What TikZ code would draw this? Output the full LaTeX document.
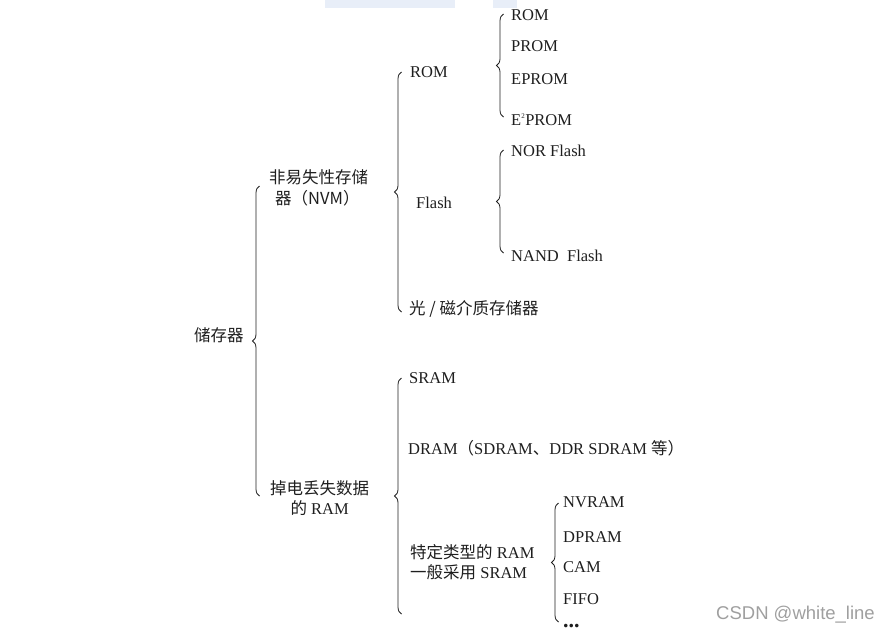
\documentclass[tikz,border=0pt]{standalone}
\usepackage{fontspec}
\setmainfont{Liberation Serif}
\newfontfamily\cjk{Noto Sans CJK SC}
\newfontfamily\markfont{Liberation Sans}
\usetikzlibrary{decorations.pathreplacing}
\definecolor{topblue}{HTML}{E8EEF8}
\definecolor{inkgray}{HTML}{1E1E1E}

\begin{document}
\begin{tikzpicture}[x=1pt, y=-1pt,
    item/.style={anchor=base west, inner sep=0pt, text=inkgray,
        font=\fontsize{16.5}{20.5}\selectfont},
    twoline/.style={anchor=west, inner sep=0pt, text=inkgray,
        font=\fontsize{16.5}{20.5}\selectfont},
    brace/.style={decorate, decoration={brace, amplitude=7pt},
        line width=0.8pt, inkgray}]
    \useasboundingbox (0,0) rectangle (890,633);

    \fill[topblue] (325,0) rectangle (455,8);
    \fill[topblue] (493,0) rectangle (517,8);

    % level 0 and 1
    \node[item] (root) at (194,341) {\cjk 储存器};
    \node[twoline, align=left] (nvm) at (269,188)
        {\cjk 非易失性存储\\\hspace*{6pt}\cjk 器（NVM）};
    \node[twoline, align=center] (ram) at (270,498)
        {{\cjk 掉电丢失数据}\\{\cjk 的} RAM};

    % level 2
    \node[item] (rom) at (410,77) {ROM};
    \node[item] (flash) at (416,208) {Flash};
    \node[item] (optic) at (409,314) {\cjk 光 / 磁介质存储器};
    \node[item] (sram) at (409,383) {SRAM};
    \node[item] (dram) at (408,454)
        {DRAM{\cjk （}SDRAM{\cjk 、}DDR SDRAM {\cjk 等）}};
    \node[twoline, align=left] (special) at (410,562)
        {{\cjk 特定类型的} RAM\\{\cjk 一般采用} SRAM};

    % level 3
    \node[item] (romA) at (511,20) {ROM};
    \node[item] (prom) at (511,51) {PROM};
    \node[item] (eprom) at (511,84) {EPROM};
    \node[item] (eeprom) at (511,125) {E\textsuperscript{\scriptsize 2}PROM};
    \node[item] (nor) at (511,156) {NOR Flash};
    \node[item] (nand) at (511,261) {NAND\ \ Flash};
    \node[item] (nvram) at (563,507) {NVRAM};
    \node[item] (dpram) at (563,542) {DPRAM};
    \node[item] (cam) at (563,572) {CAM};
    \node[item] (fifo) at (563,604) {FIFO};
    \node[item, font=\fontsize{22}{24}\selectfont] (more) at (563,627) {\textbf{...}};

    % brace ends
    \coordinate (rootT) at (259.5,186);
    \coordinate (rootB) at (259.5,496);
    \coordinate (nvmT) at (401.5,72);
    \coordinate (nvmB) at (401.5,312);
    \coordinate (romT) at (503.5,14);
    \coordinate (romB) at (503.5,117);
    \coordinate (flashT) at (503.5,150);
    \coordinate (flashB) at (503.5,253);
    \coordinate (ramT) at (401.5,378);
    \coordinate (ramB) at (401.5,614);
    \coordinate (specialT) at (558.5,503);
    \coordinate (specialB) at (558.5,622);

    \draw[brace] (rootB) -- (rootT);
    \draw[brace] (nvmB) -- (nvmT);
    \draw[brace] (romB) -- (romT);
    \draw[brace] (flashB) -- (flashT);
    \draw[brace] (ramB) -- (ramT);
    \draw[brace] (specialB) -- (specialT);

    \node[anchor=west, inner sep=0pt, text=gray!75,
        font=\markfont\fontsize{18.5}{20}\selectfont] (mark) at (716,615)
        {CSDN @white\_line};
\end{tikzpicture}
\end{document}
